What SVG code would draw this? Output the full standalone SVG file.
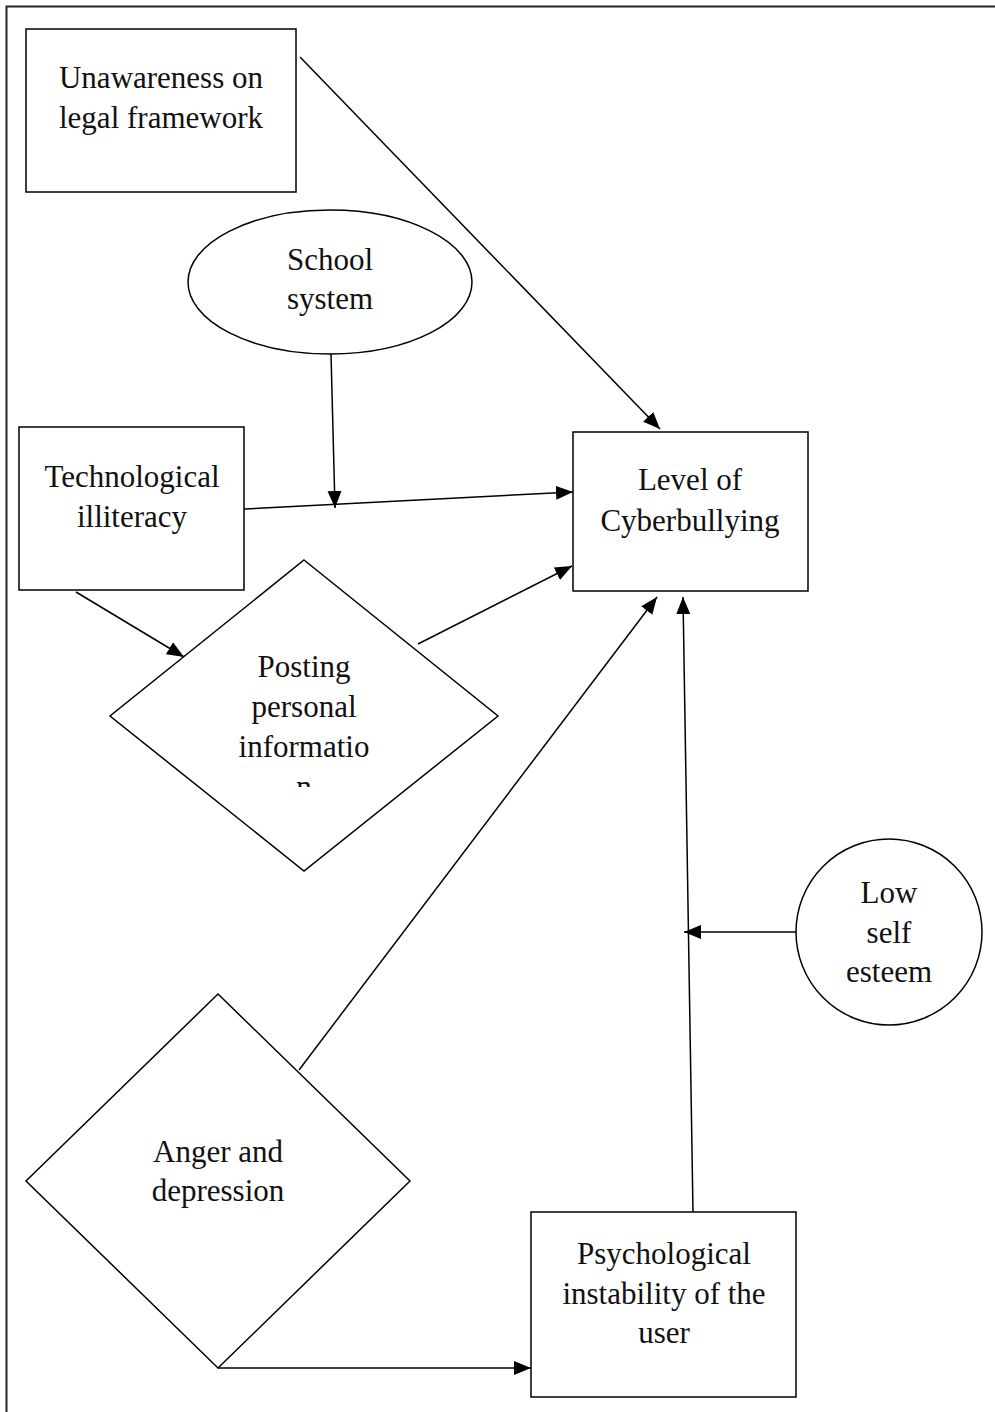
<svg xmlns="http://www.w3.org/2000/svg" width="995" height="1412" viewBox="0 0 995 1412">
<style>
.s{fill:#fff;stroke:#000;stroke-width:1.5}
.t{font-family:"Liberation Serif","Times New Roman",serif;font-size:31px;fill:#111;text-anchor:middle}
.c{stroke:#000;stroke-width:1.5;fill:none;marker-end:url(#ah)}
</style>
<defs>
<marker id="ah" markerUnits="userSpaceOnUse" markerWidth="18" markerHeight="15" refX="17" refY="7" orient="auto">
<path d="M0,0 L17,7 L0,14 z" fill="#000"/>
</marker>
<clipPath id="pclip"><rect x="100" y="550" width="420" height="237"/></clipPath>
</defs>
<rect width="995" height="1412" fill="#fff"/>
<path d="M6.5,1412 V6.5 H995" fill="none" stroke="#222" stroke-width="2"/>

<g id="connectors">
<line class="c" x1="300" y1="57" x2="660" y2="429"/>
<line class="c" x1="331" y1="354" x2="335" y2="508"/>
<line class="c" x1="244" y1="509" x2="573" y2="492"/>
<line class="c" x1="76" y1="592" x2="184" y2="657"/>
<line class="c" x1="418" y1="644" x2="572" y2="566"/>
<line class="c" x1="299" y1="1070" x2="657" y2="597"/>
<line class="c" x1="693" y1="1212" x2="683" y2="597"/>
<line class="c" x1="796" y1="932" x2="684" y2="932"/>
<line class="c" x1="218" y1="1368" x2="531" y2="1368"/>
</g>

<g id="unawareness">
<rect class="s" x="26" y="29" width="270" height="163"/>
<text class="t" x="161" y="88">Unawareness on</text>
<text class="t" x="161" y="128">legal framework</text>
</g>

<g id="school">
<ellipse class="s" cx="330" cy="282" rx="142" ry="72"/>
<text class="t" x="330" y="270">School</text>
<text class="t" x="330" y="309">system</text>
</g>

<g id="tech">
<rect class="s" x="19" y="427" width="225" height="163"/>
<text class="t" x="132" y="487">Technological</text>
<text class="t" x="132" y="527">illiteracy</text>
</g>

<g id="level">
<rect class="s" x="573" y="432" width="235" height="159"/>
<text class="t" x="690" y="490">Level of</text>
<text class="t" x="690" y="531">Cyberbullying</text>
</g>

<g id="posting">
<polygon class="s" points="304,560 498,716 304,871 110,716"/>
<g clip-path="url(#pclip)">
<text class="t" x="304" y="677">Posting</text>
<text class="t" x="304" y="717">personal</text>
<text class="t" x="304" y="757">informatio</text>
<text class="t" x="304" y="797">n</text>
</g>
</g>

<g id="lowself">
<circle class="s" cx="889" cy="932" r="93"/>
<text class="t" x="889" y="903">Low</text>
<text class="t" x="889" y="943">self</text>
<text class="t" x="889" y="982">esteem</text>
</g>

<g id="anger">
<polygon class="s" points="218,994 410,1181 218,1368 26,1181"/>
<text class="t" x="218" y="1162">Anger and</text>
<text class="t" x="218" y="1201">depression</text>
</g>

<g id="psych">
<rect class="s" x="531" y="1212" width="265" height="185"/>
<text class="t" x="664" y="1264">Psychological</text>
<text class="t" x="664" y="1304">instability of the</text>
<text class="t" x="664" y="1343">user</text>
</g>
</svg>
